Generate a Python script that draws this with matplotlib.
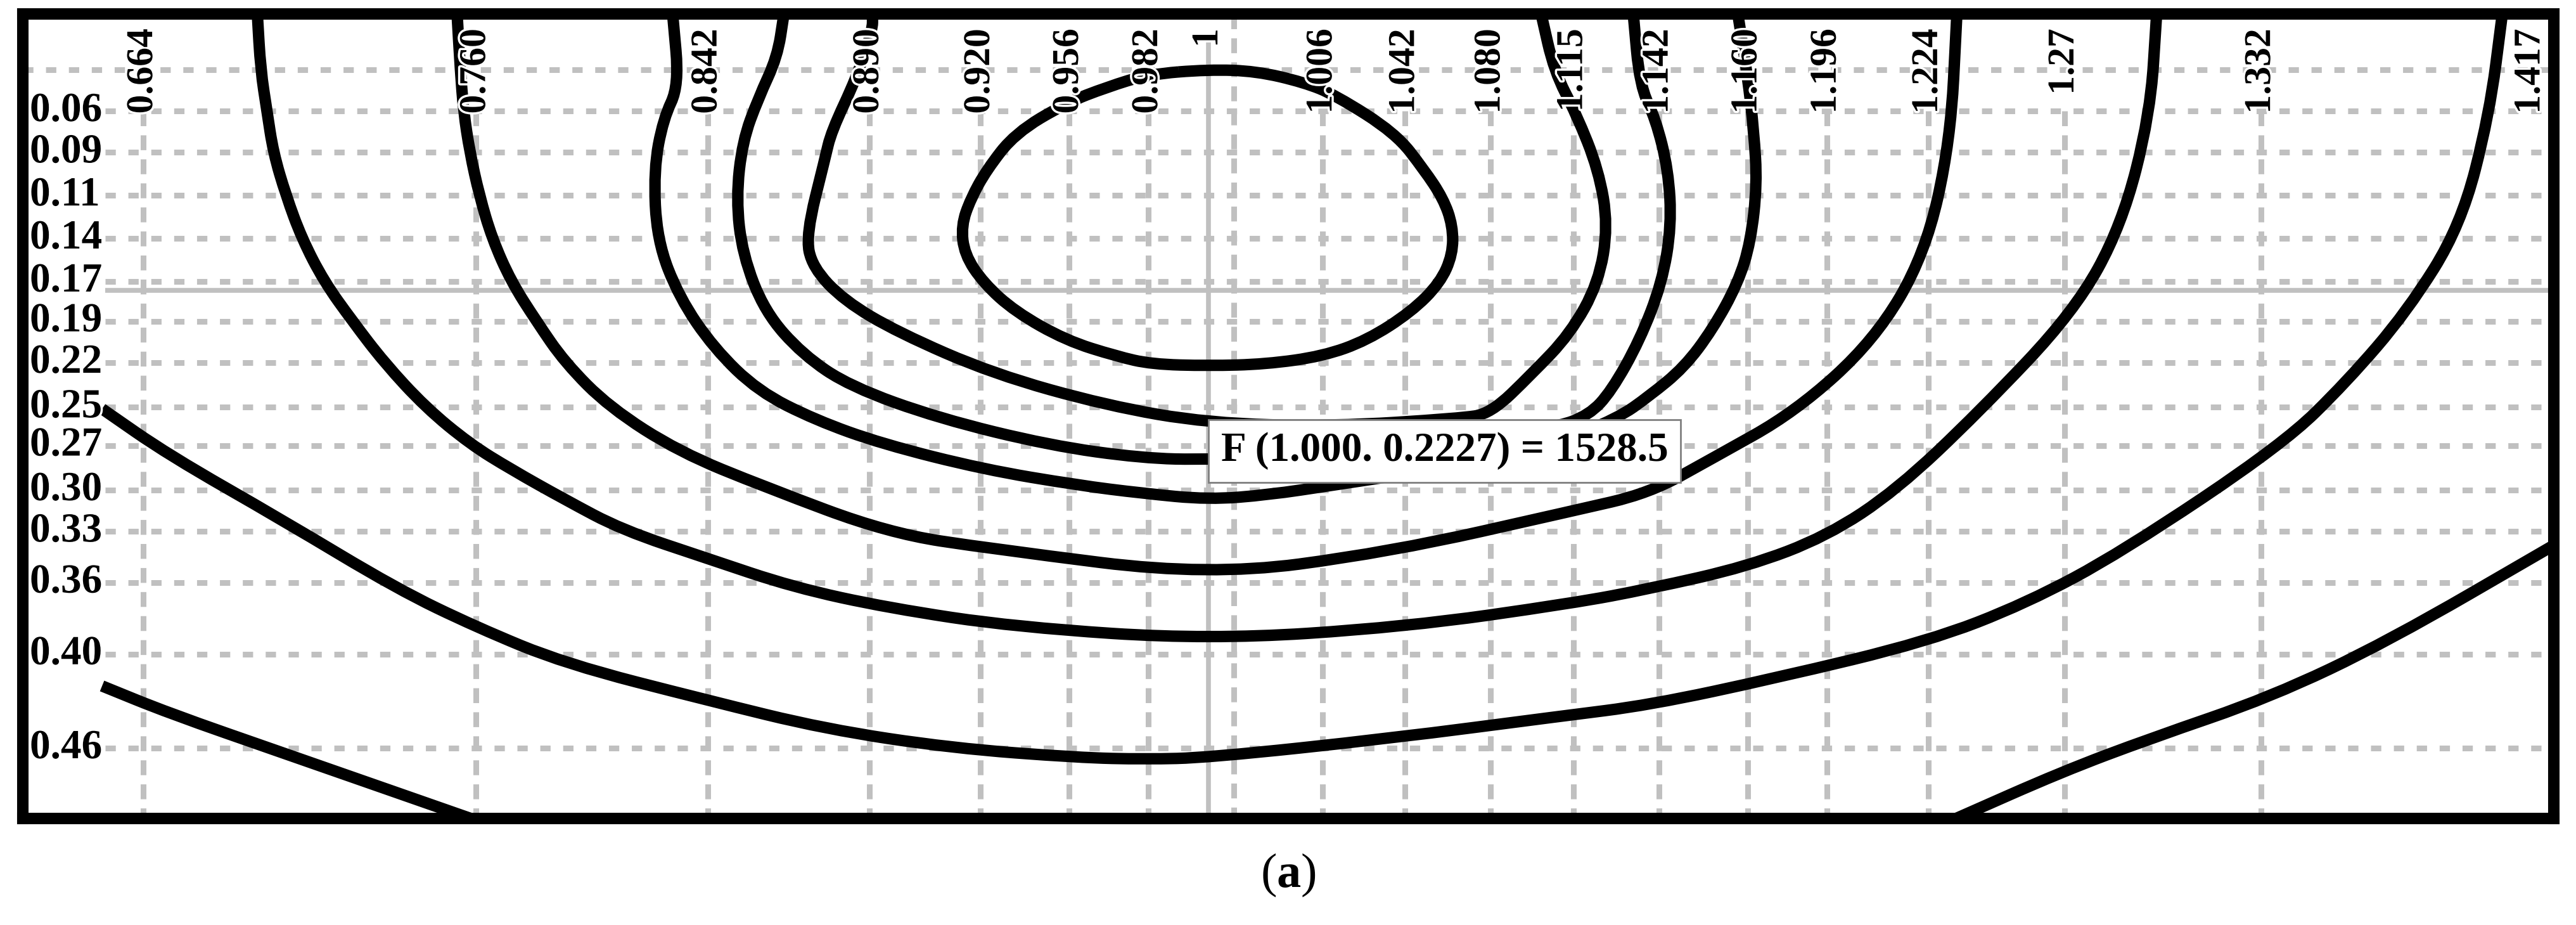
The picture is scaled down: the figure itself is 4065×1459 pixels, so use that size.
import matplotlib.pyplot as plt
import matplotlib.patheffects as pe
from matplotlib.path import Path
from matplotlib.patches import PathPatch
from matplotlib.transforms import offset_copy

plt.rcParams['font.family'] = ['Liberation Serif', 'DejaVu Serif']
plt.rcParams['mathtext.fontset'] = 'custom'
plt.rcParams['mathtext.rm'] = 'Liberation Serif'
plt.rcParams['mathtext.bf'] = 'Liberation Serif:bold'

# tick labels along the top (rotated) and the left side
x_ticks = [0.664, 0.769, 0.842, 0.893, 0.928, 0.956, 0.981, 1.000, 1.036, 1.062,
           1.089, 1.115, 1.142, 1.170, 1.195, 1.227, 1.270, 1.332, 1.417]
x_ticklabels = ['0.664', '0.760', '0.842', '0.890', '0.920', '0.956', '0.982', '1',
                '1.006', '1.042', '1.080', '1.115', '1.142', '1.160', '1.196', '1.224',
                '1.27', '1.332', '1.417']
x_grid = [0.664, 0.769, 0.842, 0.893, 0.928, 0.956, 0.981, 1.036, 1.062, 1.089,
          1.115, 1.142, 1.170, 1.195, 1.227, 1.270, 1.332]
x_grid_free = [1.008]

y_ticks = [0.060, 0.086, 0.113, 0.140, 0.167, 0.192, 0.218, 0.246, 0.270, 0.298,
           0.324, 0.356, 0.401, 0.460]
y_ticklabels = ['0.06', '0.09', '0.11', '0.14', '0.17', '0.19', '0.22', '0.25', '0.27',
                '0.30', '0.33', '0.36', '0.40', '0.46']
y_grid_free = [0.034]

# cursor / readout
cross_x = 1.000
cross_y = 0.1726
ann_x = 1.000
ann_y = 0.2227
ann_f = 1528.5

# contour lines
ring_x = [1.000, 1.015, 1.030, 1.040, 1.059, 1.068, 1.074, 1.077, 1.077, 1.073, 1.064,
          1.050, 1.036, 1.018, 1.000, 0.982, 0.971, 0.955, 0.939, 0.929, 0.923, 0.922,
          0.925, 0.930, 0.939, 0.955, 0.968, 0.981, 1.000]
ring_y = [0.034, 0.035, 0.042, 0.050, 0.074, 0.097, 0.115, 0.132, 0.150, 0.168, 0.186,
          0.204, 0.214, 0.219, 0.220, 0.219, 0.214, 0.204, 0.186, 0.168, 0.150, 0.132,
          0.115, 0.097, 0.074, 0.055, 0.045, 0.037, 0.034]

a_x = [0.894, 0.894, 0.889, 0.881, 0.879, 0.873, 0.875, 0.885, 0.902, 0.932, 0.968, 1.000,
       1.039, 1.079, 1.089, 1.102, 1.114, 1.123, 1.126, 1.123, 1.116, 1.109, 1.105]
a_y = [0.000, 0.009, 0.039, 0.073, 0.090, 0.138, 0.158, 0.179, 0.199, 0.225, 0.245, 0.256,
       0.258, 0.253, 0.250, 0.225, 0.200, 0.168, 0.132, 0.097, 0.062, 0.035, 0.000]

b_x = [0.866, 0.864, 0.858, 0.853, 0.851, 0.853, 0.860, 0.872, 0.887, 0.915, 0.950, 0.979,
       1.000, 1.059, 1.109, 1.120, 1.127, 1.136, 1.143, 1.146, 1.145, 1.141, 1.136, 1.134]
b_y = [0.000, 0.026, 0.052, 0.079, 0.115, 0.150, 0.186, 0.213, 0.233, 0.253, 0.270, 0.278,
       0.279, 0.275, 0.259, 0.251, 0.236, 0.204, 0.168, 0.132, 0.097, 0.065, 0.044, 0.000]

c_x = [0.831, 0.833, 0.828, 0.825, 0.826, 0.833, 0.844, 0.858, 0.876, 0.897, 0.929, 0.959,
       0.979, 1.000, 1.019, 1.039, 1.079, 1.109, 1.129, 1.139, 1.150, 1.159, 1.167, 1.171,
       1.173, 1.172, 1.170, 1.167]
c_y = [0.000, 0.044, 0.065, 0.097, 0.141, 0.177, 0.209, 0.236, 0.254, 0.269, 0.285, 0.295,
       0.300, 0.304, 0.301, 0.295, 0.283, 0.269, 0.253, 0.239, 0.221, 0.197, 0.168, 0.142,
       0.106, 0.073, 0.038, 0.000]

d_x = [0.763, 0.764, 0.765, 0.767, 0.770, 0.774, 0.780, 0.788, 0.797, 0.811, 0.833, 0.860,
       0.899, 0.932, 1.000, 1.057, 1.115, 1.139, 1.159, 1.185, 1.210, 1.226, 1.234, 1.236]
d_y = [0.000, 0.034, 0.060, 0.086, 0.113, 0.140, 0.167, 0.192, 0.218, 0.246, 0.274, 0.296,
       0.325, 0.335, 0.352, 0.337, 0.311, 0.300, 0.278, 0.249, 0.204, 0.150, 0.079, 0.000]

e_x = [0.700, 0.701, 0.703, 0.705, 0.709, 0.714, 0.721, 0.730, 0.740, 0.753, 0.767, 0.780,
       0.797, 0.815, 0.842, 0.869, 0.899, 0.939, 1.000, 1.062, 1.115, 1.139, 1.170, 1.195,
       1.217, 1.243, 1.273, 1.288, 1.297, 1.299]
e_y = [0.000, 0.034, 0.060, 0.086, 0.113, 0.140, 0.167, 0.192, 0.218, 0.246, 0.269, 0.285,
       0.304, 0.323, 0.341, 0.359, 0.372, 0.384, 0.392, 0.384, 0.369, 0.360, 0.346, 0.327,
       0.298, 0.249, 0.186, 0.132, 0.062, 0.000]

f_x = [0.651, 0.672, 0.708, 0.744, 0.769, 0.797, 0.842, 0.879, 0.919, 0.959, 0.980, 1.000,
       1.057, 1.111, 1.139, 1.179, 1.227, 1.258, 1.288, 1.339, 1.359, 1.378, 1.395, 1.404,
       1.408]
f_y = [0.247, 0.276, 0.317, 0.360, 0.384, 0.407, 0.430, 0.448, 0.460, 0.466, 0.467, 0.466,
       0.454, 0.440, 0.433, 0.416, 0.393, 0.369, 0.337, 0.269, 0.230, 0.186, 0.132, 0.062,
       0.000]

g_x = [0.651, 0.672, 0.708, 0.744, 0.767]
g_y = [0.421, 0.438, 0.463, 0.488, 0.504]

h_x = [1.236, 1.269, 1.297, 1.335, 1.372, 1.424]
h_y = [0.504, 0.475, 0.454, 0.428, 0.393, 0.333]

curves = [(ring_x, ring_y, True), (a_x, a_y, False), (b_x, b_y, False),
          (c_x, c_y, False), (d_x, d_y, False), (e_x, e_y, False),
          (f_x, f_y, False), (g_x, g_y, False), (h_x, h_y, False)]


def smooth_path(xs, ys, closed=False):
    # quadratic bezier through the midpoints, the read points act as controls
    pts = list(zip(xs, ys))
    mid = lambda p, q: ((p[0] + q[0]) / 2, (p[1] + q[1]) / 2)
    if closed:
        pts = pts[:-1]
        n = len(pts)
        verts = [mid(pts[-1], pts[0])]
        codes = [Path.MOVETO]
        for i in range(n):
            verts += [pts[i], mid(pts[i], pts[(i + 1) % n])]
            codes += [Path.CURVE3, Path.CURVE3]
        return Path(verts, codes)
    verts = [pts[0], mid(pts[0], pts[1])]
    codes = [Path.MOVETO, Path.LINETO]
    for i in range(1, len(pts) - 1):
        verts += [pts[i], mid(pts[i], pts[i + 1])]
        codes += [Path.CURVE3, Path.CURVE3]
    verts.append(pts[-1])
    codes.append(Path.LINETO)
    return Path(verts, codes)


# figure
fig = plt.figure(figsize=(40.66, 14.59), dpi=100)
ax = fig.add_axes([0.00885, 0.11515, 0.98229, 0.86977])
x_lo, x_hi = 0.626, 1.4243
y_top, y_bot = -0.0009, 0.5042
ax.set_xticks([])
ax.set_yticks([])
for sp in ax.spines.values():
    sp.set_linewidth(13)
    sp.set_color('black')
    sp.set_capstyle('projecting')
    sp.set_zorder(8)

# grid: labelled lines stop at the label band
band_x, band_y = 0.652, 0.060
grey = '#c0c0c0'
ax.vlines(x_grid, band_y, y_bot, colors=grey, linewidth=6.5,
          linestyles=(0, (2.6, 1.6)), zorder=1)
ax.vlines(x_grid_free, y_top, y_bot, colors=grey, linewidth=6.5,
          linestyles=(0, (2.6, 1.6)), zorder=1)
ax.hlines(y_ticks, band_x, x_hi, colors=grey, linewidth=6.5,
          linestyles=(0, (1.8, 2.2)), zorder=1)
ax.hlines(y_grid_free, x_lo, x_hi, colors=grey, linewidth=6.5,
          linestyles=(0, (1.8, 2.2)), zorder=1)

# cursor cross
ax.vlines(cross_x, 0.017, y_bot, colors=grey, linewidth=5.5, zorder=1.5)
ax.hlines(cross_y, band_x, x_hi, colors=grey, linewidth=5.5, zorder=1.5)

# contour lines
for xs, ys, closed in curves:
    ax.add_patch(PathPatch(smooth_path(xs, ys, closed), fill=False, ec='black',
                           lw=13, capstyle='butt', joinstyle='round', zorder=3))

ax.set_xlim(x_lo, x_hi)
ax.set_ylim(y_bot, y_top)

# labels with white halo
halo = [pe.withStroke(linewidth=5, foreground='white')]
for xv, lab in zip(x_ticks, x_ticklabels):
    ax.text(xv, 0.0083, lab, rotation=90, ha='center', va='top', fontsize=43,
            fontweight='bold', path_effects=halo, zorder=5)
for yv, lab in zip(y_ticks, y_ticklabels):
    ax.text(0.6282, yv, lab, ha='left', va='center', fontsize=47,
            fontweight='bold', path_effects=halo, zorder=5)

# readout box
ax.text(ann_x, 0.2735, f'F ({ann_x:.3f}. {ann_y:.4f}) = {ann_f}',
        transform=offset_copy(ax.transData, fig, x=14, y=0, units='points'),
        ha='left', va='center', fontsize=47, fontweight='bold',
        bbox=dict(boxstyle='square,pad=0.3', fc='white', ec='#7f7f7f', lw=2),
        zorder=6)

fig.text(0.5, 0.054, r'($\mathbf{a}$)', ha='center', va='center', fontsize=55)

fig.savefig('out.png', dpi=100)
